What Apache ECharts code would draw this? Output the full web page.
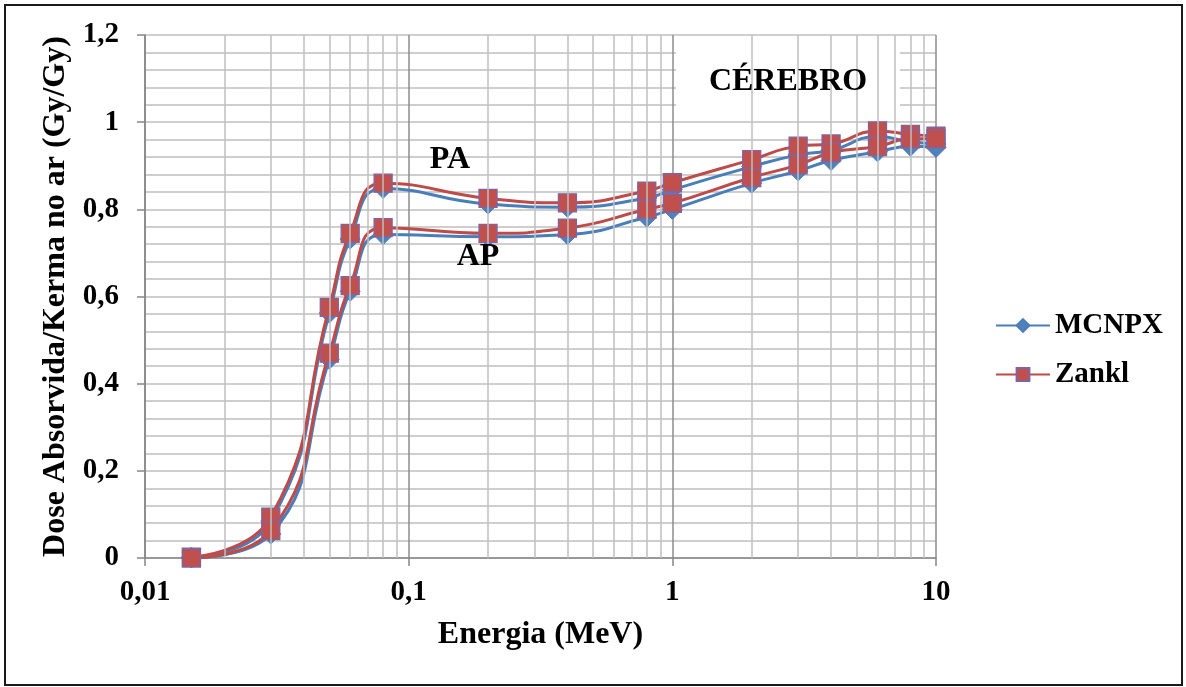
<!DOCTYPE html>
<html>
<head>
<meta charset="utf-8">
<style>
  html, body { margin: 0; padding: 0; background: #fff; }
  #chart { width: 1186px; height: 687px; }
</style>
<script src="https://cdn.jsdelivr.net/npm/echarts@6/dist/echarts.min.js"></script>
</head>
<body>
<div id="chart"></div>
<script>
// Photon energies (MeV)
const energies = [0.015, 0.03, 0.05, 0.06, 0.08, 0.2, 0.4, 0.8, 1, 2, 3, 4, 6, 8, 10];

// Brain absorbed dose / air kerma (Gy/Gy)
const mcnpxPA = [0.002, 0.085, 0.562, 0.732, 0.848, 0.812, 0.805, 0.826, 0.845, 0.898, 0.925, 0.935, 0.967, 0.955, 0.950];
const mcnpxAP = [0.000, 0.055, 0.456, 0.612, 0.742, 0.737, 0.742, 0.782, 0.800, 0.860, 0.888, 0.912, 0.932, 0.945, 0.942];
const zanklPA = [0.002, 0.094, 0.575, 0.745, 0.860, 0.825, 0.815, 0.842, 0.861, 0.914, 0.945, 0.950, 0.980, 0.972, 0.968];
const zanklAP = [0.000, 0.063, 0.470, 0.625, 0.758, 0.745, 0.757, 0.800, 0.814, 0.873, 0.902, 0.930, 0.944, 0.962, 0.962];

// Axis ticks
const yTicks = [0, 0.2, 0.4, 0.6, 0.8, 1, 1.2];
const xTickLabels = { 0.01: '0,01', 0.1: '0,1', 1: '1', 10: '10' };
const minorX = [0.02, 0.03, 0.04, 0.05, 0.06, 0.07, 0.08, 0.09,
                0.2, 0.3, 0.4, 0.5, 0.6, 0.7, 0.8, 0.9,
                2, 3, 4, 5, 6, 7, 8, 9];

const FONT = '"Liberation Serif", "Times New Roman", serif';
const BLUE = '#4A7EBB', BLUE_FILL = '#4F81BD';
const RED = '#BE4B48', RED_FILL = '#C0504D', RED_EDGE = '#8064A2';

const pairs = arr => energies.map((e, i) => [e, arr[i]]);
const fmtNum = v => String(+v.toFixed(2)).replace('.', ',');

function lineSeries(name, values, isZankl) {
  return {
    name: name,
    type: 'line',
    data: pairs(values),
    smooth: 0.5,
    symbol: isZankl ? 'rect' : 'diamond',
    symbolSize: isZankl ? 18 : 20,
    z: isZankl ? 4 : 3,
    lineStyle: { color: isZankl ? RED : BLUE, width: 3 },
    itemStyle: isZankl
      ? { color: RED_FILL, borderColor: RED_EDGE, borderWidth: 1.3 }
      : { color: BLUE_FILL, borderColor: BLUE, borderWidth: 1 }
  };
}

const chart = echarts.init(document.getElementById('chart'), null, { renderer: 'canvas' });

chart.setOption({
  animation: false,
  backgroundColor: '#fff',
  grid: { left: 145, top: 35, width: 791, height: 523, containLabel: false },
  legend: {
    data: ['MCNPX', 'Zankl'],
    orient: 'vertical',
    left: 990,
    top: 306,
    itemWidth: 54,
    itemHeight: 16,
    itemGap: 20,
    textStyle: { fontFamily: FONT, fontWeight: 'bold', fontSize: 29, color: '#000' }
  },
  xAxis: {
    type: 'log',
    logBase: 10,
    min: 0.01,
    max: 10,
    name: 'Energia (MeV)',
    nameLocation: 'middle',
    nameGap: 61,
    nameTextStyle: { fontFamily: FONT, fontWeight: 'bold', fontSize: 32, color: '#000' },
    axisLine: { lineStyle: { color: '#868686', width: 1.5 } },
    axisTick: { show: true, inside: false, length: 8, lineStyle: { color: '#868686', width: 1.5 } },
    axisLabel: {
      margin: 20,
      fontFamily: FONT, fontWeight: 'bold', fontSize: 29, color: '#000',
      formatter: v => xTickLabels[+(+v).toPrecision(3)] || ''
    },
    splitLine: { show: true, lineStyle: { color: '#8C8C8C', width: 1.5 } }
  },
  yAxis: {
    type: 'value',
    min: 0,
    max: 1.2,
    interval: 0.2,
    name: 'Dose Absorvida/Kerma no ar (Gy/Gy)',
    nameLocation: 'middle',
    nameGap: 70,
    nameTextStyle: { fontFamily: FONT, fontWeight: 'bold', fontSize: 32, color: '#000' },
    axisLine: { show: true, lineStyle: { color: '#868686', width: 1.5 } },
    axisTick: { show: true, length: 8, lineStyle: { color: '#868686', width: 1.5 } },
    axisLabel: {
      margin: 26,
      fontFamily: FONT, fontWeight: 'bold', fontSize: 29, color: '#000',
      formatter: v => yTicks.some(t => Math.abs(t - v) < 1e-9) ? fmtNum(v) : ''
    },
    splitLine: { show: true, lineStyle: { color: '#BFBFBF', width: 1.5 } },
    minorTick: { show: false, splitNumber: 5 },
    minorSplitLine: { show: true, lineStyle: { color: '#BFBFBF', width: 1.5 } }
  },
  series: [
    {
      // intermediate logarithmic grid lines (2..9 within each decade)
      name: 'grid',
      type: 'line',
      data: [],
      silent: true,
      z: 1,
      markLine: {
        silent: true,
        symbol: ['none', 'none'],
        label: { show: false },
        lineStyle: { color: '#BFBFBF', width: 1.5, type: 'solid' },
        data: minorX.map(v => ({ xAxis: v }))
      }
    },
    lineSeries('MCNPX', mcnpxPA, false),
    lineSeries('MCNPX', mcnpxAP, false),
    lineSeries('Zankl', zanklPA, true),
    lineSeries('Zankl', zanklAP, true)
  ],
  graphic: [
    {
      type: 'rect',
      shape: { x: 5, y: 5, width: 1177, height: 680 },
      style: { fill: 'none', stroke: '#1a1a1a', lineWidth: 2 },
      silent: true, z: 10
    },
    {
      type: 'rect',
      shape: { x: 676, y: 37, width: 224, height: 82 },
      style: { fill: '#fff', stroke: 'none' },
      silent: true, z: 5
    },
    {
      type: 'text',
      x: 788, y: 82,
      style: {
        text: 'CÉREBRO', fill: '#000',
        font: 'bold 32px ' + FONT,
        textAlign: 'center', textVerticalAlign: 'middle'
      },
      silent: true, z: 6
    },
    {
      type: 'text',
      x: 450, y: 160,
      style: {
        text: 'PA', fill: '#000',
        font: 'bold 32px ' + FONT,
        textAlign: 'center', textVerticalAlign: 'middle'
      },
      silent: true, z: 6
    },
    {
      type: 'text',
      x: 478, y: 257,
      style: {
        text: 'AP', fill: '#000',
        font: 'bold 32px ' + FONT,
        textAlign: 'center', textVerticalAlign: 'middle'
      },
      silent: true, z: 6
    }
  ]
});
</script>
</body>
</html>
